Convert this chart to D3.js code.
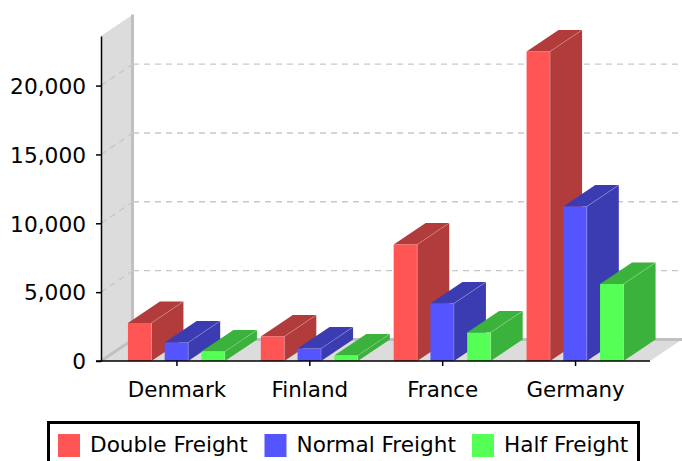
<!DOCTYPE html>
<html><head><meta charset="utf-8">
<script src="https://cdn.jsdelivr.net/npm/d3@7"></script>
<style>html,body{margin:0;padding:0;background:#fff}svg{display:block;font-family:"DejaVu Sans"}</style>
</head><body><svg id="c" width="682" height="461"></svg>
<script>
const categories=["Denmark","Finland","France","Germany"];
const seriesNames=["Double Freight","Normal Freight","Half Freight"];
const doubleFreight=[2760,1780,8460,22480];
const normalFreight=[1340,900,4180,11220];
const halfFreight=[690,400,2070,5590];
const seriesValues=[doubleFreight,normalFreight,halfFreight];
const yTicks=[0,5000,10000,15000,20000];
const faceColors=["#ff5555","#5555ff","#55ff55"];
const sideColors=["#b23b3b","#3b3bb2","#3bb23b"];
const dx=32,dy=-21.5;
const svg=d3.select("#c");
const y=d3.scaleLinear().domain([0,23600]).range([361,36]);
const x0=d3.scaleBand().domain(categories).range([110,641.5]).paddingInner(0.27).paddingOuter(0.135);
const x1=d3.scaleBand().domain(d3.range(3)).range([0,x0.bandwidth()]).paddingInner(0.36).paddingOuter(0);
const pts=a=>a.map(p=>p.join(",")).join(" ");
const y0=y(0),yT=y.range()[1];
const xL=101,xR=650,xEnd=682;
// wall and floor
svg.append("polygon").attr("points",pts([[xL,y0],[xL,yT],[xL+dx,yT+dy],[xL+dx,y0+dy]])).attr("fill","#dcdcdc");
svg.append("polygon").attr("points",pts([[xL,y0],[xL+dx,y0+dy],[xEnd,y0+dy],[xR,y0]])).attr("fill","#dcdcdc");
svg.append("line").attr("x1",xL+dx-.5).attr("x2",xL+dx-.5).attr("y1",yT+dy).attr("y2",y0+dy).attr("stroke","#c0c0c0").attr("stroke-width",3);
svg.append("line").attr("x1",xL+dx).attr("x2",xEnd).attr("y1",y0+dy).attr("y2",y0+dy).attr("stroke","#c0c0c0").attr("stroke-width",3);
svg.append("line").attr("x1",xL).attr("x2",xL+dx).attr("y1",y0).attr("y2",y0+dy).attr("stroke","#c0c0c0").attr("stroke-width",3);
// gridlines
yTicks.slice(1).forEach(t=>{
  svg.append("polyline").attr("points",pts([[xL,y(t)],[xL+dx,y(t)+dy]]))
    .attr("fill","none").attr("stroke","#c8c8c8").attr("stroke-width",1.4).attr("stroke-dasharray","6 5");
  svg.append("polyline").attr("points",pts([[xL+dx,y(t)+dy],[xEnd,y(t)+dy]]))
    .attr("fill","none").attr("stroke","#c8c8c8").attr("stroke-width",1.4).attr("stroke-dasharray","6 5");
});
// bars
categories.forEach((c,i)=>{
  seriesValues.forEach((vals,s)=>{
    const g=svg.append("g");
    const l=x0(c)+x1(s),w=x1.bandwidth(),r=l+w,t=y(vals[i]);
    g.append("polygon").attr("points",pts([[r,y0],[r,t],[r+dx,t+dy],[r+dx,y0+dy]])).attr("fill",sideColors[s]);
    g.append("polygon").attr("points",pts([[l,t],[l+dx,t+dy],[r+dx,t+dy],[r,t]])).attr("fill",sideColors[s]);
    g.append("rect").attr("x",l).attr("y",t).attr("width",w).attr("height",y0-t).attr("fill",faceColors[s]);
    g.append("polyline").attr("points",pts([[r,y0],[r,t],[r+dx,t+dy]])).attr("fill","none").attr("stroke","#fff").attr("stroke-opacity",.2);
  });
});
// axes
const ya=d3.axisLeft(y).tickValues(yTicks).tickFormat(d3.format(",")).tickSize(5).tickSizeOuter(0);
const gy=svg.append("g").attr("transform",`translate(${xL},0)`).call(ya);
gy.selectAll("text").attr("font-size",21.7).attr("font-family","DejaVu Sans").attr("fill","#000").attr("x",-15).attr("dy","0.36em");
gy.selectAll("path,line").attr("stroke","#000").attr("stroke-width",1.5);
const xScaleAxis=d3.scalePoint().domain(categories).range([x0(categories[0])+x0.bandwidth()/2,x0(categories[3])+x0.bandwidth()/2]);
const xa=d3.axisBottom(xScaleAxis).tickSize(5).tickSizeOuter(0);
const gx=svg.append("g").attr("transform",`translate(0,${y0})`).call(xa);
gx.select("path").remove();
gx.selectAll("text").attr("font-size",21.4).attr("font-family","DejaVu Sans").attr("fill","#000").attr("y",21).attr("dy","0.71em");
gx.selectAll("line").attr("stroke","#000").attr("stroke-width",1.5);
svg.append("line").attr("x1",xL-5).attr("x2",xR).attr("y1",y0).attr("y2",y0).attr("stroke","#000").attr("stroke-width",1.5);
// legend
svg.append("rect").attr("x",48.5).attr("y",422.5).attr("width",590).attr("height",50).attr("fill","#fff").attr("stroke","#000").attr("stroke-width",3);
const legendX=d3.scaleOrdinal().domain(seriesNames).range([58,264.5,472]);
seriesNames.forEach((n,i)=>{
  svg.append("rect").attr("x",legendX(n)).attr("y",434).attr("width",22).attr("height",23).attr("fill",faceColors[i]);
  svg.append("text").attr("x",legendX(n)+32).attr("y",452).attr("font-size",21.6).attr("fill","#000").text(n);
});
</script></body></html>
